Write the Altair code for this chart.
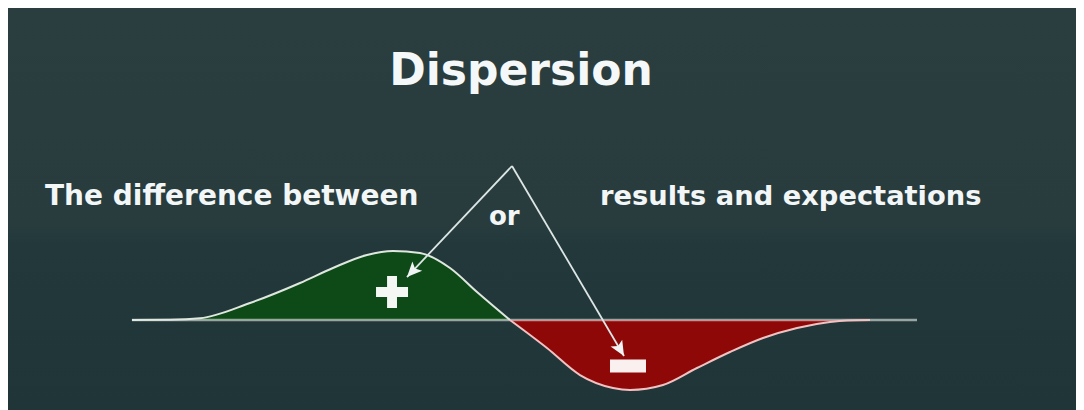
import math
import altair as alt
import pandas as pd

# ---- data (diagram units: x along deviation axis, y = deviation) ----
curve_x = [11.52, 15.06, 17.84, 22.49, 27.14, 30.20, 33.36, 35.78, 38.29, 41.08, 43.59, 46.65,
           50.09, 53.16, 56.23, 57.81, 60.87, 64.03, 67.10, 70.17, 73.33, 76.39, 77.97, 80.11]
curve_y = [0.0, 0.003, 0.024, 0.243, 0.529, 0.743, 0.929, 0.986, 0.957, 0.743, 0.40, 0.0,
           -0.40, -0.786, -0.971, -1.0, -0.929, -0.686, -0.457, -0.257, -0.114, -0.029, -0.007, 0.0]

baseline_x = [11.52, 84.48]

arrow_start = (46.84, 2.2)
arrow_tips_x = [37.08, 57.25]
arrow_tips_y = [0.614, -0.514]

sign_x = [35.69, 57.62]
sign_y = [0.40, -0.657]

label_text = ["Dispersion", "The difference between", "results and expectations", "or"]
label_x = [47.68, 3.44, 55.02, 44.70]
label_y = [3.357, 1.643, 1.643, 1.357]
label_size = [44, 28, 27.3, 26]

W, H = 1068, 402
UNIT_PX = 10.76
XD = [0, W / UNIT_PX]
YD = [-1.2857, 4.4571]
PX_X = UNIT_PX
PX_Y = H / (YD[1] - YD[0])

xs = alt.Scale(domain=XD, nice=False, zero=False)
ys = alt.Scale(domain=YD, nice=False, zero=False)

# ---- tables ----
rows = []
for x, y in zip(curve_x, curve_y):
    if y >= 0:
        rows.append({"x": x, "y": y, "seg": "pos"})
    if y <= 0:
        rows.append({"x": x, "y": y, "seg": "neg"})
curve = pd.DataFrame(rows)
pos = curve[(curve.seg == "pos") & (curve.x <= 46.65)]
neg = curve[(curve.seg == "neg") & (curve.x >= 46.65)]

base = pd.DataFrame({"x": [baseline_x[0]], "x2": [baseline_x[1]], "y": [0.0]})

arr_rows = []
for tx, ty in zip(arrow_tips_x, arrow_tips_y):
    dx = (tx - arrow_start[0]) * PX_X
    dy = (arrow_start[1] - ty) * PX_Y
    ang = math.degrees(math.atan2(dx, -dy)) % 360
    arr_rows.append({"x": arrow_start[0], "y": arrow_start[1], "x2": tx, "y2": ty, "ang": ang})
arrows = pd.DataFrame(arr_rows)

signs = pd.DataFrame({"x": sign_x, "y": sign_y})
labels = pd.DataFrame({"t": label_text, "x": label_x, "y": label_y, "s": label_size})

X = lambda f="x": alt.X(f"{f}:Q", scale=xs, axis=None)
Y = lambda f="y": alt.Y(f"{f}:Q", scale=ys, axis=None)

bg = alt.Chart(pd.DataFrame({"a": [0]})).mark_rect(
    color=alt.Gradient(
        gradient="linear", x1=0, x2=0, y1=0, y2=1,
        stops=[alt.GradientStop(color="#2a3e40", offset=0),
               alt.GradientStop(color="#283c3e", offset=0.54),
               alt.GradientStop(color="#22383a", offset=0.59),
               alt.GradientStop(color="#1f3537", offset=1)])
).encode(x=alt.value(0), x2=alt.value(W), y=alt.value(0), y2=alt.value(H))

area_pos = alt.Chart(pos).mark_area(color="#0e4a18", interpolate="monotone").encode(
    x=X(), y=Y(), y2=alt.Y2(datum=0))
area_neg = alt.Chart(neg).mark_area(color="#8e0808", interpolate="monotone").encode(
    x=X(), y=Y(), y2=alt.Y2(datum=0))

baseline = alt.Chart(base).mark_rule(color="white", opacity=0.55, strokeWidth=2.5).encode(
    x=X(), x2="x2:Q", y=Y())

line_pos = alt.Chart(pos).mark_line(color="#dfe7df", strokeWidth=2, interpolate="monotone").encode(
    x=X(), y=Y())
line_neg = alt.Chart(neg).mark_line(color="#f2c2c2", strokeWidth=2, interpolate="monotone").encode(
    x=X(), y=Y())

arrow_lines = alt.Chart(arrows).mark_rule(color="#dde5e5", strokeWidth=1.8).encode(
    x=X(), y=Y(), x2="x2:Q", y2="y2:Q")
arrow_heads = alt.Chart(arrows).mark_point(
    shape="M0,0 L-0.45,1 L0,0.78 L0.45,1 Z", filled=True, color="#f0f4f4", opacity=1, size=900
).encode(x=X("x2"), y=Y("y2"), angle=alt.Angle("ang:Q", scale=None))

plus = alt.Chart(signs.iloc[[0]]).mark_point(
    shape="M-0.31,-1 L0.31,-1 L0.31,-0.31 L1,-0.31 L1,0.31 L0.31,0.31 L0.31,1 L-0.31,1 L-0.31,0.31 L-1,0.31 L-1,-0.31 L-0.31,-0.31 Z",
    filled=True, color="#f4f7f4", opacity=1, size=1024).encode(x=X(), y=Y())
minus = alt.Chart(signs.iloc[[1]]).mark_point(
    shape="M-1,-0.36 L1,-0.36 L1,0.36 L-1,0.36 Z",
    filled=True, color="#fbf0f0", opacity=1, size=1296).encode(x=X(), y=Y())

title = alt.Chart(labels.iloc[[0]]).mark_text(
    font="DejaVu Sans", fontWeight="bold", color="#f4f8f8", align="center", baseline="alphabetic"
).encode(x=X(), y=Y(), text="t:N", size=alt.Size("s:Q", scale=None, legend=None))
subs = alt.Chart(labels.iloc[[1, 2, 3]]).mark_text(
    font="DejaVu Sans", fontWeight="bold", color="#f2f6f6", align="left", baseline="alphabetic"
).encode(x=X(), y=Y(), text="t:N", size=alt.Size("s:Q", scale=None, legend=None))

chart = alt.layer(
    bg, area_pos, area_neg, baseline, line_pos, line_neg, arrow_lines, arrow_heads, plus, minus, title, subs
).properties(
    width=W, height=H, padding=0,
    autosize=alt.AutoSizeParams(type="none"), background="#1f3537"
).configure_view(stroke=None)

chart.save("out.html", embed_options={"renderer": "svg", "actions": False})
